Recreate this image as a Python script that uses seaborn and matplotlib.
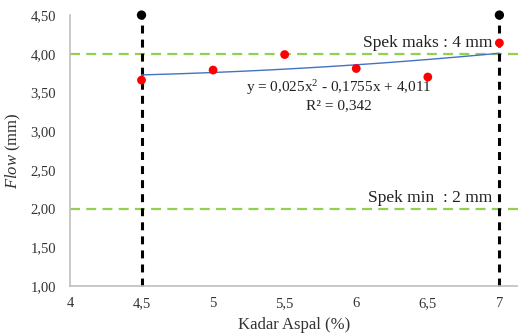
import numpy as np
import pandas as pd
import matplotlib
matplotlib.use("Agg")
import matplotlib.pyplot as plt
import seaborn as sns

# Data
kadar_aspal = [4.5, 5.0, 5.5, 6.0, 6.5, 7.0]
flow = [3.66, 3.79, 3.99, 3.81, 3.70, 4.14]
trend_coef = [0.025, -0.1755, 4.011]
spek_maks = 4.0
spek_min = 2.0
batas_x = [4.5, 7.0]
y_ticks = [1.0, 1.5, 2.0, 2.5, 3.0, 3.5, 4.0, 4.5]
x_ticks = [4, 4.5, 5, 5.5, 6, 6.5, 7]
x_tick_labels = ["4", "4,5", "5", "5,5", "6", "6,5", "7"]

sns.set_style("white")
plt.rcParams['font.family'] = ['Liberation Serif', 'DejaVu Serif']
plt.rcParams['mathtext.fontset'] = 'custom'
plt.rcParams['mathtext.rm'] = 'Liberation Serif'
plt.rcParams['mathtext.it'] = 'Liberation Serif:italic'

fig = plt.figure(figsize=(5.18, 3.35), dpi=100)
ax = fig.add_axes([0.135, 0.146, 0.865, 0.809])

df = pd.DataFrame({"x": kadar_aspal, "y": flow})
xs = np.linspace(min(kadar_aspal), max(kadar_aspal), 100)
trend = pd.DataFrame({"x": xs, "y": np.polyval(trend_coef, xs)})

# spec lines
for v in [spek_maks, spek_min]:
    ax.axhline(v, color="#92D050", linestyle=(0, (4.5, 2.8)), linewidth=1.6, zorder=1)

# vertical boundary lines with black dots at top
for bx in batas_x:
    ax.plot([bx, bx], [1.0, 4.5], color="black", linestyle=(0, (2.6, 2.0)), linewidth=2.2, zorder=2, clip_on=False)
bdf = pd.DataFrame({"x": batas_x, "y": [4.5, 4.5]})
sns.scatterplot(data=bdf, x="x", y="y", ax=ax, color="black", s=45, edgecolor="none", zorder=5, clip_on=False)

sns.lineplot(data=trend, x="x", y="y", ax=ax, color="#4472C4", linewidth=1.0, zorder=3)
sns.scatterplot(data=df, x="x", y="y", ax=ax, color="#FF0000", s=40, edgecolor="none", zorder=4)

ax.set_xlim(4, 7.13)
ax.set_ylim(1.0, 4.5)
ax.set_yticks(y_ticks)
ax.set_yticklabels([f"{v:.2f}".replace(".", ",") for v in y_ticks])
ax.set_xticks(x_ticks)
ax.set_xticklabels(x_tick_labels)
ax.tick_params(axis="x", length=0, labelsize=10.5, colors="#333333", pad=8)
ax.tick_params(axis="y", length=0, labelsize=10.5, colors="#333333", pad=10)

for s in ["top", "right"]:
    ax.spines[s].set_visible(False)
for s in ["left", "bottom"]:
    ax.spines[s].set_color("#BFBFBF")
    ax.spines[s].set_linewidth(1.2)

ax.set_xlabel("Kadar Aspal (%)", fontsize=12, color="#333333", labelpad=5)
ax.set_ylabel(r"$\it{Flow}$ (mm)", fontsize=12, color="#333333", labelpad=5)

ax.text(6.95, 4.04, "Spek maks : 4 mm", fontsize=12.5, ha="right", va="bottom", color="#222222")
ax.text(6.95, 2.04, "Spek min  : 2 mm", fontsize=12.5, ha="right", va="bottom", color="#222222")
ax.text(5.88, 3.56, "y = 0,025x$^2$ - 0,1755x + 4,011", fontsize=11, ha="center", va="center", color="#222222")
ax.text(5.88, 3.33, "R² = 0,342", fontsize=11, ha="center", va="center", color="#222222")

fig.savefig("out.png", dpi=100)
